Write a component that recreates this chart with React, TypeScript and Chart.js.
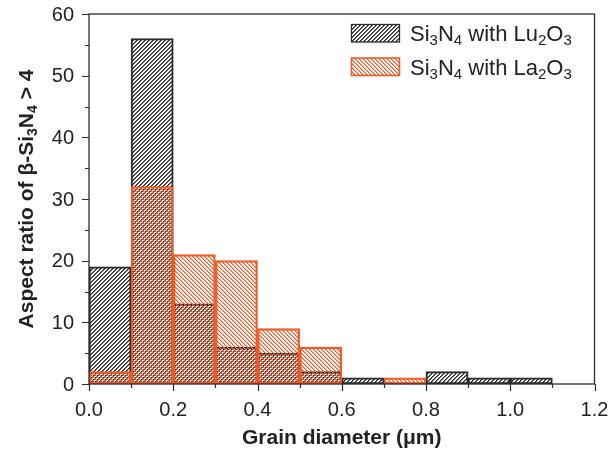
import { useEffect, useRef } from "react";
import { Chart, registerables } from "chart.js";

Chart.register(...registerables);

// ---- Data ----
const binCenters = [0.05, 0.15, 0.25, 0.35, 0.45, 0.55, 0.65, 0.75, 0.85, 0.95, 1.05];
const luValues = [19, 56, 13, 6, 5, 2, 1, 0, 2, 1, 1];
const laValues = [2, 32, 21, 20, 9, 6, 0, 1, 0, 0, 0];
const xMin = 0;
const xMax = 1.2;
const xStep = 0.2;
const yMin = 0;
const yMax = 60;
const yStep = 10;

type Seg = { t: string; sub?: boolean };
const luLabel: Seg[] = [
  { t: "Si" }, { t: "3", sub: true }, { t: "N" }, { t: "4", sub: true },
  { t: " with Lu" }, { t: "2", sub: true }, { t: "O" }, { t: "3", sub: true },
];
const laLabel: Seg[] = [
  { t: "Si" }, { t: "3", sub: true }, { t: "N" }, { t: "4", sub: true },
  { t: " with La" }, { t: "2", sub: true }, { t: "O" }, { t: "3", sub: true },
];
const yTitle: Seg[] = [
  { t: "Aspect ratio of \u03B2-Si" }, { t: "3", sub: true }, { t: "N" }, { t: "4", sub: true }, { t: " > 4" },
];
const xTitle: Seg[] = [{ t: "Grain diameter (\u03BCm)" }];

const FONT = "'Liberation Sans', Arial, Helvetica, sans-serif";
const BLACK = "#2b2b2b";
const RED = "#f05a28";

function makePattern(color: string, dir: "/" | "\\", a2: number): CanvasPattern | string {
  const c = document.createElement("canvas");
  c.width = 4;
  c.height = 4;
  const g = c.getContext("2d");
  if (!g) return color;
  g.fillStyle = color;
  for (let y = 0; y < 4; y++) {
    for (let x = 0; x < 4; x++) {
      const k = dir === "/" ? (x + y) % 4 : (x - y + 8) % 4;
      if (k === 0) {
        g.globalAlpha = 1;
        g.fillRect(x, y, 1, 1);
      } else if (k === 1) {
        g.globalAlpha = a2;
        g.fillRect(x, y, 1, 1);
      }
    }
  }
  const p = g.createPattern(c, "repeat");
  return p || color;
}

function richWidth(ctx: CanvasRenderingContext2D, segs: Seg[], size: number, bold: boolean) {
  const b = bold ? "bold " : "";
  let w = 0;
  for (const s of segs) {
    ctx.font = `${b}${s.sub ? Math.round(size * 0.68) : size}px ${FONT}`;
    w += ctx.measureText(s.t).width;
  }
  return w;
}

function drawRich(
  ctx: CanvasRenderingContext2D,
  segs: Seg[],
  x: number,
  y: number,
  size: number,
  bold: boolean,
  align: "left" | "center"
) {
  const b = bold ? "bold " : "";
  const w = richWidth(ctx, segs, size, bold);
  let cx = align === "center" ? x - w / 2 : x;
  ctx.textAlign = "left";
  ctx.textBaseline = "alphabetic";
  for (const s of segs) {
    ctx.font = `${b}${s.sub ? Math.round(size * 0.68) : size}px ${FONT}`;
    ctx.fillText(s.t, cx, s.sub ? y + size * 0.2 : y);
    cx += ctx.measureText(s.t).width;
  }
}

export default function App() {
  const ref = useRef<HTMLCanvasElement | null>(null);

  useEffect(() => {
    document.body.style.margin = "0";
    const canvas = ref.current;
    if (!canvas) return;

    const luPat = makePattern(BLACK, "/", 0.7);
    const laPat = makePattern(RED, "\\", 0.5);

    const decor = {
      id: "decor",
      afterDraw(chart: any) {
        const ctx: CanvasRenderingContext2D = chart.ctx;
        const { left, right, top, bottom } = chart.chartArea;
        const xs = chart.scales.x;
        const ys = chart.scales.y;
        ctx.save();
        // frame
        ctx.strokeStyle = BLACK;
        ctx.lineWidth = 1.3;
        ctx.strokeRect(left, top, right - left, bottom - top);
        // tick marks (major + minor)
        ctx.lineWidth = 1.2;
        ctx.beginPath();
        for (let i = 0; i <= Math.round((yMax - yMin) / (yStep / 2)); i++) {
          const v = yMin + (i * yStep) / 2;
          const py = Math.round(ys.getPixelForValue(v)) + 0.5;
          const len = i % 2 === 0 ? 7 : 4;
          ctx.moveTo(left, py);
          ctx.lineTo(left - len, py);
        }
        for (let i = 0; i <= Math.round((xMax - xMin) / (xStep / 2)); i++) {
          const v = xMin + (i * xStep) / 2;
          const px = Math.round(xs.getPixelForValue(v)) + 0.5;
          const len = i % 2 === 0 ? 7 : 4;
          ctx.moveTo(px, bottom);
          ctx.lineTo(px, bottom + len);
        }
        ctx.stroke();

        // tick labels from the scales' ticks
        ctx.fillStyle = "#222";
        ctx.font = `20px ${FONT}`;
        ctx.textAlign = "center";
        ctx.textBaseline = "middle";
        for (const t of xs.ticks) {
          ctx.fillText(Number(t.value).toFixed(1), xs.getPixelForValue(t.value), bottom + 26);
        }
        ctx.textAlign = "right";
        for (const t of ys.ticks) {
          ctx.fillText(String(Math.round(t.value)), left - 15, ys.getPixelForValue(t.value) + 1);
        }

        // x title
        drawRich(ctx, xTitle, (left + right) / 2, bottom + 60, 21, true, "center");
        // y title
        ctx.save();
        ctx.translate(33, (top + bottom) / 2);
        ctx.rotate(-Math.PI / 2);
        drawRich(ctx, yTitle, 0, 0, 21, true, "center");
        ctx.restore();

        // legend
        const items: [Seg[], any, string, number][] = [
          [luLabel, luPat, BLACK, 24.5],
          [laLabel, laPat, RED, 58],
        ];
        for (const [segs, pat, col, y0] of items) {
          ctx.fillStyle = pat;
          ctx.fillRect(351.5, y0, 48, 17.5);
          ctx.strokeStyle = col;
          ctx.lineWidth = col === RED ? 1.6 : 1.3;
          ctx.strokeRect(351.5, y0, 48, 17.5);
          ctx.fillStyle = "#222";
          drawRich(ctx, segs, 410, y0 + 16.5, 22, false, "left");
        }
        ctx.restore();
      },
    };

    const toPts = (vals: number[]) =>
      binCenters.map((x, i) => ({ x, y: vals[i] })).filter((p) => p.y > 0);

    const chart = new Chart(canvas, {
      type: "bar",
      data: {
        datasets: [
          {
            label: "La",
            data: toPts(laValues) as any,
            backgroundColor: laPat as any,
            borderColor: RED,
            borderWidth: 1.6,
            borderSkipped: false,
            grouped: false,
            barPercentage: 1,
            categoryPercentage: 1,
            order: 1,
          },
          {
            label: "Lu",
            data: toPts(luValues) as any,
            backgroundColor: luPat as any,
            borderColor: BLACK,
            borderWidth: 1.3,
            borderSkipped: false,
            grouped: false,
            barPercentage: 1,
            categoryPercentage: 1,
            order: 2,
          },
        ],
      },
      options: {
        animation: false,
        responsive: true,
        maintainAspectRatio: false,
        layout: { padding: { left: 89, right: 19.5, top: 14, bottom: 70 } },
        plugins: {
          legend: { display: false },
          tooltip: { enabled: false },
          title: { display: false },
        },
        scales: {
          x: {
            type: "linear",
            min: xMin,
            max: xMax,
            offset: false,
            grid: { display: false, drawTicks: false, tickLength: 0, offset: false },
            border: { display: false },
            ticks: { stepSize: xStep, display: false },
          },
          y: {
            type: "linear",
            min: yMin,
            max: yMax,
            grid: { display: false, drawTicks: false, tickLength: 0 },
            border: { display: false },
            ticks: { stepSize: yStep, display: false },
          },
        },
      },
      plugins: [decor],
    });

    return () => chart.destroy();
  }, []);

  return (
    <div style={{ width: 614, height: 454, position: "relative" }}>
      <canvas ref={ref} />
    </div>
  );
}
